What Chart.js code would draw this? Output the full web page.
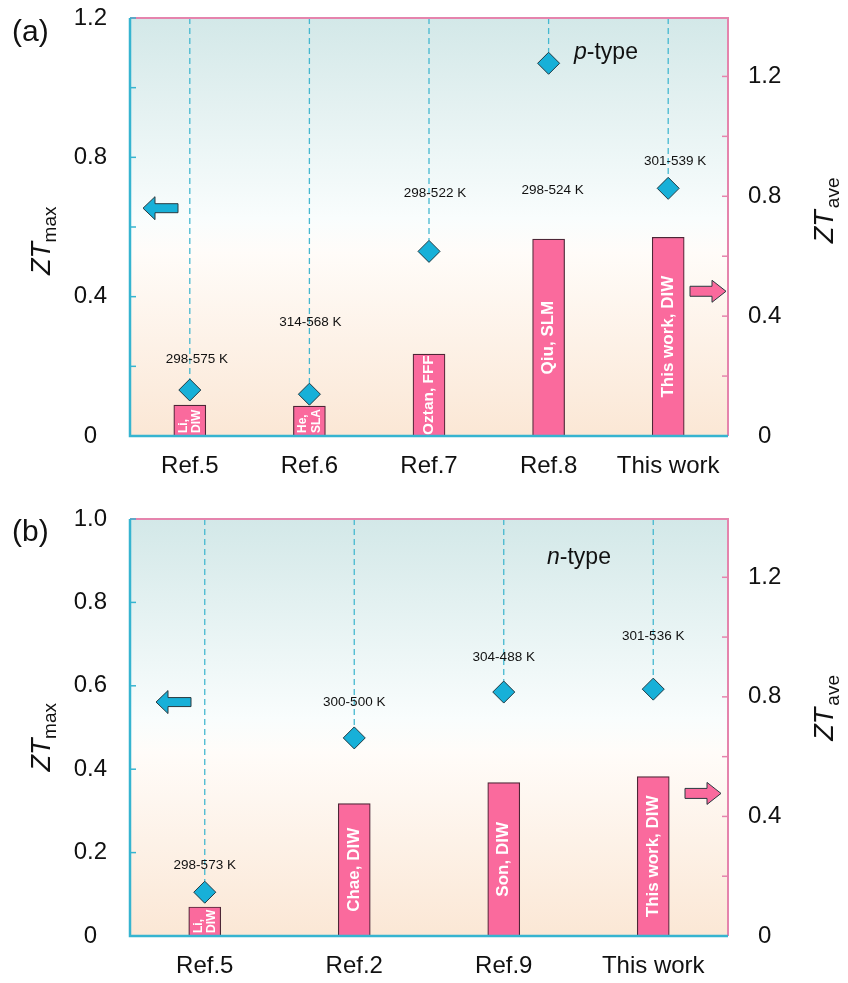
<!DOCTYPE html>
<html>
<head>
<meta charset="utf-8">
<script src="https://cdn.jsdelivr.net/npm/chart.js@4.4.0/dist/chart.umd.min.js"></script>
<style>
  body { margin: 0; background: #fff; width: 848px; height: 983px; overflow: hidden; position: relative; }
  canvas { position: absolute; left: 0; }
</style>
</head>
<body>
<canvas id="chartA" width="848" height="490" style="top:0"></canvas>
<canvas id="chartB" width="848" height="493" style="top:490px"></canvas>
<script>
// ---- DATA ----
// (a) p-type
const refsA = ['Ref.5', 'Ref.6', 'Ref.7', 'Ref.8', 'This work'];
const ztMaxA = [0.132, 0.12, 0.53, 1.07, 0.711];
const ztAveA = [0.103, 0.10, 0.273, 0.657, 0.663];
const tempsA = ['298-575 K', '314-568 K', '298-522 K', '298-524 K', '301-539 K'];
const methodsA = ['Li,\nDIW', 'He,\nSLA', 'Oztan, FFF', 'Qiu, SLM', 'This work, DIW'];

// (b) n-type
const refsB = ['Ref.5', 'Ref.2', 'Ref.9', 'This work'];
const ztMaxB = [0.105, 0.475, 0.585, 0.592];
const ztAveB = [0.097, 0.443, 0.513, 0.533];
const tempsB = ['298-573 K', '300-500 K', '304-488 K', '301-536 K'];
const methodsB = ['Li,\nDIW', 'Chae, DIW', 'Son, DIW', 'This work, DIW'];

// tick marks / labels
const leftMinorA = [0, 0.2, 0.4, 0.6, 0.8, 1.0, 1.2];
const leftLabelsA = [0, 0.4, 0.8, 1.2];
const leftMinorB = [0, 0.2, 0.4, 0.6, 0.8, 1.0];
const leftLabelsB = [0, 0.2, 0.4, 0.6, 0.8, 1.0];
const rightMinor = [0, 0.2, 0.4, 0.6, 0.8, 1.0, 1.2];
const rightLabels = [0, 0.4, 0.8, 1.2];

// ---- STYLE ----
const FONT = '"Liberation Sans", Arial, sans-serif';
const CYAN = '#36b4d0';
const PINK = '#e584ad';
const DIAMOND = '#17b0d8';
const BAR = '#fa6a9d';
Chart.defaults.font.family = FONT;

const fmt = v => v === 0 ? '0' : v.toFixed(1);

// draws background, dashed guides, labels, axes, arrows, titles
const decor = {
  id: 'decor',
  beforeDraw(chart, args, o) {
    const { ctx, chartArea: a } = chart;
    const g = ctx.createLinearGradient(0, a.top, 0, a.bottom);
    g.addColorStop(0, '#d3e8e8');
    g.addColorStop(0.48, '#f9fdfd');
    g.addColorStop(0.56, '#fffcf9');
    g.addColorStop(1, '#fbe7d5');
    ctx.save();
    ctx.fillStyle = g;
    ctx.fillRect(a.left, a.top, a.right - a.left, a.bottom - a.top);
    ctx.restore();
  },
  beforeDatasetsDraw(chart, args, o) {
    const { ctx, chartArea: a, scales } = chart;
    ctx.save();
    ctx.strokeStyle = '#45b8d0';
    ctx.lineWidth = 1.3;
    ctx.setLineDash([6, 4]);
    o.ztMax.forEach((v, i) => {
      const x = scales.x.getPixelForValue(i);
      const y = scales.y.getPixelForValue(v) - 11;
      ctx.beginPath();
      ctx.moveTo(x, a.top);
      ctx.lineTo(x, y);
      ctx.stroke();
    });
    ctx.restore();
  },
  afterDatasetsDraw(chart, args, o) {
    const { ctx, chartArea: a, scales } = chart;
    // text inside bars
    const bars = chart.getDatasetMeta(1).data;
    bars.forEach((b, i) => {
      const txt = o.methods[i];
      const h = b.base - b.y;
      ctx.save();
      ctx.beginPath();
      ctx.rect(b.x - b.width / 2, b.y, b.width, h);
      ctx.clip();
      ctx.translate(b.x, (b.y + b.base) / 2);
      ctx.rotate(-Math.PI / 2);
      ctx.fillStyle = '#fff';
      ctx.textBaseline = 'middle';
      if (txt.includes('\n')) {
        const lines = txt.split('\n');
        ctx.font = 'bold 12px ' + FONT;
        ctx.textAlign = 'left';
        ctx.fillText(lines[0], -h / 2 + 3, -6.5);
        ctx.fillText(lines[1], -h / 2 + 3, 7);
      } else {
        let size = 17;
        ctx.font = 'bold 17px ' + FONT;
        const tw = ctx.measureText(txt).width;
        if (tw > h - 2) size = 17 * (h - 2) / tw;
        ctx.font = 'bold ' + size + 'px ' + FONT;
        ctx.textAlign = 'center';
        ctx.fillText(txt, 0, 0);
      }
      ctx.restore();
    });

    ctx.save();
    // temperature ranges
    ctx.font = '13.5px ' + FONT;
    ctx.fillStyle = '#111';
    ctx.textAlign = 'center';
    ctx.textBaseline = 'middle';
    o.temps.forEach((t, i) => {
      const p = o.tempPos[i];
      ctx.fillText(t, scales.x.getPixelForValue(i) + p[0], scales.y.getPixelForValue(p[1]));
    });

    // frame: top + right pink, left + bottom cyan
    ctx.lineWidth = 2;
    ctx.strokeStyle = PINK;
    ctx.beginPath();
    ctx.moveTo(a.left, a.top); ctx.lineTo(a.right, a.top); ctx.lineTo(a.right, a.bottom);
    ctx.stroke();
    ctx.lineWidth = 1.5;
    rightMinor.forEach(v => {
      const y = scales.y2.getPixelForValue(v);
      ctx.beginPath(); ctx.moveTo(a.right, y); ctx.lineTo(a.right - 6, y); ctx.stroke();
    });
    ctx.strokeStyle = CYAN;
    o.leftMinor.forEach(v => {
      const y = scales.y.getPixelForValue(v);
      ctx.beginPath(); ctx.moveTo(a.left, y); ctx.lineTo(a.left + 6, y); ctx.stroke();
    });
    ctx.lineWidth = 2.5;
    ctx.beginPath();
    ctx.moveTo(a.left, a.top); ctx.lineTo(a.left, a.bottom); ctx.lineTo(a.right, a.bottom);
    ctx.stroke();

    // arrows
    const cy = scales.y.getPixelForValue(o.leftArrow[1]);
    arrow(ctx, a.left + o.leftArrow[0], cy, 35, 12, 11.5, 4.5, -1, DIAMOND);
    const py = scales.y2.getPixelForValue(o.rightArrow[1]);
    arrow(ctx, a.right - o.rightArrow[0], py, 36, 14, 11, 5, 1, BAR);

    // axis titles
    const mid = (a.top + a.bottom) / 2;
    ztTitle(ctx, 50, mid + o.titleOff[0], 'max');
    ztTitle(ctx, 833, mid + o.titleOff[1], 'ave');

    // panel letter and type text
    ctx.fillStyle = '#111';
    ctx.textAlign = 'left';
    ctx.textBaseline = 'alphabetic';
    ctx.font = '30px ' + FONT;
    ctx.fillText(o.letter, 12, o.letterY);
    ctx.font = 'italic 23px ' + FONT;
    ctx.fillText(o.kind, o.kindPos[0], o.kindPos[1]);
    const w = ctx.measureText(o.kind).width;
    ctx.font = '23px ' + FONT;
    ctx.fillText('-type', o.kindPos[0] + w, o.kindPos[1]);
    ctx.restore();
  }
};

function arrow(ctx, tipX, y, len, headLen, headH, bodyH, dir, color) {
  // dir -1 points left, +1 points right
  const tail = tipX - dir * len;
  const neck = tipX - dir * headLen;
  ctx.save();
  ctx.beginPath();
  ctx.moveTo(tipX, y);
  ctx.lineTo(neck, y - headH);
  ctx.lineTo(neck, y - bodyH);
  ctx.lineTo(tail, y - bodyH);
  ctx.lineTo(tail, y + bodyH);
  ctx.lineTo(neck, y + bodyH);
  ctx.lineTo(neck, y + headH);
  ctx.closePath();
  ctx.fillStyle = color;
  ctx.fill();
  ctx.lineWidth = 1;
  ctx.strokeStyle = '#2a3a40';
  ctx.stroke();
  ctx.restore();
}

function ztTitle(ctx, x, y, sub) {
  ctx.save();
  ctx.translate(x, y);
  ctx.rotate(-Math.PI / 2);
  ctx.fillStyle = '#111';
  ctx.textBaseline = 'alphabetic';
  ctx.font = 'italic 27px ' + FONT;
  const w1 = ctx.measureText('ZT').width;
  ctx.font = '19px ' + FONT;
  const w2 = ctx.measureText(sub).width;
  const x0 = -(w1 + w2) / 2;
  ctx.font = 'italic 27px ' + FONT;
  ctx.fillText('ZT', x0, 0);
  ctx.font = '19px ' + FONT;
  ctx.fillText(sub, x0 + w1 + 1, 6);
  ctx.restore();
}

// no label overhang, so the plot box sits exactly where the layout says
const noPad = s => { s.paddingTop = 0; s.paddingBottom = 0; s.paddingLeft = 0; s.paddingRight = 0; };

function makePanel(id, cfg) {
  const tickFont = { size: 24, family: FONT };
  return new Chart(document.getElementById(id), {
    type: 'bar',
    data: {
      labels: cfg.labels,
      datasets: [
        {
          type: 'line', data: cfg.ztMax, yAxisID: 'y', showLine: false,
          pointStyle: 'rectRot', pointRadius: 11, pointHoverRadius: 11,
          pointBackgroundColor: DIAMOND, pointBorderColor: '#1f3a44', pointBorderWidth: 1,
          order: 0
        },
        {
          type: 'bar', data: cfg.ztAve, yAxisID: 'y2',
          backgroundColor: BAR, borderColor: '#4d2636', borderWidth: 1.2,
          barThickness: 32, order: 1
        }
      ]
    },
    options: {
      responsive: false,
      animation: false,
      events: [],
      layout: { padding: { top: cfg.padTop, left: 0, right: 0, bottom: 0 } },
      plugins: { legend: { display: false }, tooltip: { enabled: false }, decor: cfg },
      scales: {
        x: {
          offset: true,
          grid: { display: false, drawTicks: false },
          border: { display: false },
          ticks: { font: { size: 24, family: FONT }, color: '#111', padding: cfg.xPad, maxRotation: 0, autoSkip: false },
          afterFit: s => { s.height = cfg.xHeight; noPad(s); }
        },
        y: {
          position: 'left', min: 0, max: cfg.leftMax,
          grid: { display: false, drawTicks: false },
          border: { display: false },
          afterBuildTicks: s => { s.ticks = cfg.leftMinor.map(v => ({ value: v })); },
          ticks: {
            autoSkip: false, crossAlign: 'center', padding: 23, font: tickFont, color: '#111',
            callback: v => cfg.leftLabels.includes(v) ? fmt(v) : ''
          },
          afterFit: s => { s.width = 130; noPad(s); }
        },
        y2: {
          position: 'right', min: 0, max: 1.395,
          grid: { display: false, drawTicks: false },
          border: { display: false },
          afterBuildTicks: s => { s.ticks = rightMinor.map(v => ({ value: v })); },
          ticks: {
            autoSkip: false, crossAlign: 'center', padding: 20, font: tickFont, color: '#111',
            callback: v => rightLabels.includes(v) ? fmt(v) : ''
          },
          afterFit: s => { s.width = 120; noPad(s); }
        }
      }
    },
    plugins: [decor]
  });
}

makePanel('chartA', {
  labels: refsA, ztMax: ztMaxA, ztAve: ztAveA, temps: tempsA, methods: methodsA,
  leftMax: 1.2, leftMinor: leftMinorA, leftLabels: leftLabelsA,
  padTop: 18, xHeight: 54, xPad: 16,
  tempPos: [[7, 0.221], [1, 0.327], [6, 0.697], [4, 0.705], [7, 0.789]],
  leftArrow: [13, 0.654], rightArrow: [2, 0.483],
  titleOff: [-3, -32],
  letter: '(a)', letterY: 41, kind: 'p', kindPos: [574, 59]
});

makePanel('chartB', {
  labels: refsB, ztMax: ztMaxB, ztAve: ztAveB, temps: tempsB, methods: methodsB,
  leftMax: 1.0, leftMinor: leftMinorB, leftLabels: leftLabelsB,
  padTop: 29, xHeight: 47, xPad: 16,
  tempPos: [[0, 0.170], [0, 0.561], [0, 0.669], [0, 0.719]],
  leftArrow: [26, 0.561], rightArrow: [7, 0.477],
  titleOff: [-7, -35],
  letter: '(b)', letterY: 51, kind: 'n', kindPos: [547, 74]
});
</script>
</body>
</html>
